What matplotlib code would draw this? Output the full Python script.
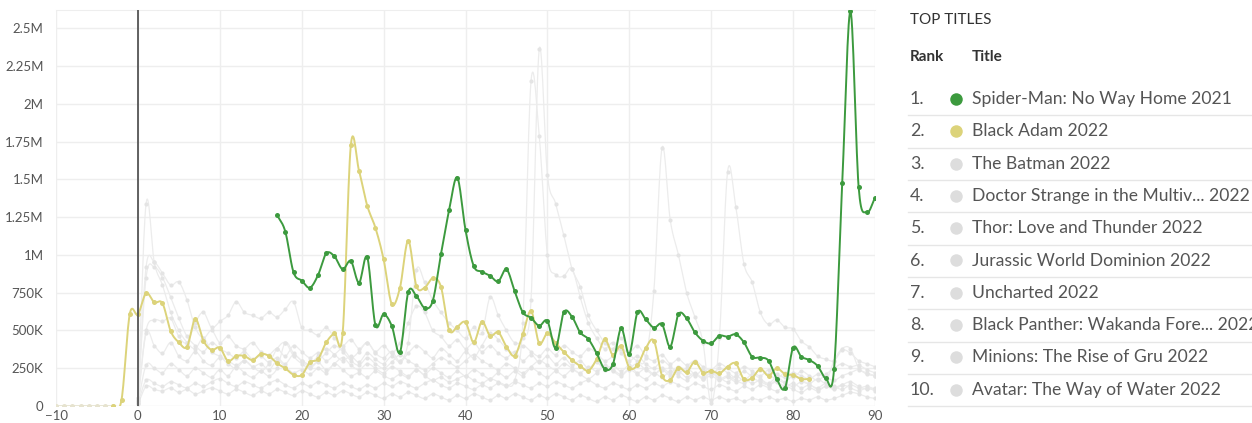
import numpy as np
import matplotlib
matplotlib.use("Agg")
import matplotlib.pyplot as plt
from matplotlib.lines import Line2D

plt.rcParams['font.family'] = ['Lato', 'DejaVu Sans']

# ---- data (views per day, in millions) ----
yticks = [0, 0.25, 0.5, 0.75, 1.0, 1.25, 1.5, 1.75, 2.0, 2.25, 2.5]
ytick_labels = ['0', '250K', '500K', '750K', '1M', '1.25M', '1.5M', '1.75M', '2M', '2.25M', '2.5M']
xticks = [-10, 0, 10, 20, 30, 40, 50, 60, 70, 80, 90]

titles = ['Spider-Man: No Way Home 2021', 'Black Adam 2022', 'The Batman 2022',
          'Doctor Strange in the Multiv... 2022', 'Thor: Love and Thunder 2022',
          'Jurassic World Dominion 2022', 'Uncharted 2022',
          'Black Panther: Wakanda Fore... 2022', 'Minions: The Rise of Gru 2022',
          'Avatar: The Way of Water 2022']

spider_start = 17
spider = [1.264, 1.154, 0.885, 0.830, 0.783, 0.867, 1.010, 0.990, 0.905, 0.960,
          0.816, 0.984, 0.536, 0.607, 0.530, 0.355, 0.752, 0.728, 0.650, 0.695,
          1.004, 1.295, 1.511, 1.165, 0.927, 0.889, 0.862, 0.825, 0.905, 0.761,
          0.620, 0.584, 0.531, 0.563, 0.385, 0.620, 0.591, 0.487, 0.443, 0.351,
          0.245, 0.276, 0.514, 0.344, 0.620, 0.574, 0.518, 0.541, 0.393, 0.607,
          0.580, 0.488, 0.432, 0.415, 0.465, 0.459, 0.474, 0.421, 0.326, 0.320,
          0.300, 0.179, 0.117, 0.386, 0.326, 0.304, 0.265, 0.183, 0.243, 1.476,
          2.612, 1.450, 1.282, 1.377]

adam_start = -10
adam = [0, 0, 0, 0, 0, 0, 0, 0, 0.040, 0.607,
        0.607, 0.746, 0.686, 0.680, 0.496, 0.421, 0.393, 0.576, 0.432, 0.371,
        0.386, 0.298, 0.331, 0.331, 0.304, 0.344, 0.331, 0.282, 0.249, 0.207,
        0.205, 0.289, 0.311, 0.421, 0.481, 0.481, 1.727, 1.557, 1.326, 1.180,
        0.971, 0.675, 0.783, 1.094, 0.794, 0.783, 0.845, 0.790, 0.503, 0.525,
        0.554, 0.421, 0.558, 0.465, 0.488, 0.393, 0.333, 0.474, 0.629, 0.415,
        0.481, 0.417, 0.358, 0.304, 0.265, 0.234, 0.310, 0.441, 0.338, 0.397,
        0.254, 0.271, 0.382, 0.432, 0.200, 0.172, 0.254, 0.223, 0.293, 0.221,
        0.234, 0.216, 0.260, 0.282, 0.177, 0.187, 0.245, 0.200, 0.249, 0.212,
        0.205, 0.179, 0.179]

gray_start = 0
batman = [0.05, 1.34, 0.95, 0.80, 0.62, 0.50, 0.42, 0.38, 0.45, 0.36,
          0.33, 0.30, 0.27, 0.30, 0.26, 0.28, 0.24, 0.30, 0.26, 0.22,
          0.24, 0.21, 0.25, 0.22, 0.28, 0.24, 0.20, 0.22, 0.19, 0.23,
          0.20, 0.18, 0.21, 0.19, 0.24, 0.20, 0.17, 0.19, 0.16, 0.18,
          0.20, 0.17, 0.15, 0.18, 0.16, 0.14, 0.17, 0.55, 2.15, 1.79,
          1.00, 0.87, 0.86, 0.91, 0.72, 0.55, 0.45, 0.38, 0.42, 0.35,
          0.30, 0.33, 0.28, 0.25, 0.30, 0.26, 0.22, 0.25, 0.21, 0.19,
          0.22, 0.18, 0.20, 0.17, 0.15, 0.18, 0.16, 0.14, 0.17, 0.15,
          0.13, 0.16, 0.14, 0.12, 0.15, 0.13, 0.11, 0.14, 0.12, 0.13, 0.11]
strange = [0.04, 0.92, 0.95, 0.88, 0.80, 0.82, 0.70, 0.52, 0.45, 0.50,
           0.42, 0.46, 0.40, 0.38, 0.42, 0.36, 0.34, 0.38, 0.33, 0.40,
           0.36, 0.32, 0.35, 0.30, 0.34, 0.38, 0.32, 0.36, 0.42, 0.35,
           0.32, 0.36, 0.30, 0.42, 0.90, 0.82, 0.70, 0.62, 0.55, 0.50,
           0.45, 0.52, 0.48, 0.72, 0.60, 0.50, 0.42, 0.45, 0.70, 2.36,
           1.53, 1.34, 1.13, 0.91, 0.79, 0.60, 0.50, 0.42, 0.38, 0.45,
           0.36, 0.40, 0.33, 0.30, 0.34, 0.28, 0.31, 0.27, 0.30, 0.26,
           0.24, 0.28, 0.25, 0.22, 0.26, 0.23, 0.20, 0.24, 0.21, 0.19,
           0.22, 0.20, 0.18, 0.21, 0.19, 0.17, 0.20, 0.22, 0.24, 0.21, 0.20]
thor = [0.03, 0.85, 0.92, 0.85, 0.72, 0.58, 0.46, 0.40, 0.36, 0.42,
        0.38, 0.35, 0.32, 0.36, 0.31, 0.33, 0.29, 0.32, 0.28, 0.34,
        0.30, 0.28, 0.33, 0.38, 0.34, 0.30, 0.33, 0.29, 0.35, 0.31,
        0.28, 0.33, 0.29, 0.35, 0.40, 0.36, 0.32, 0.38, 0.34, 0.30,
        0.36, 0.32, 0.40, 0.48, 0.44, 0.38, 0.35, 0.40, 0.36, 0.33,
        0.38, 0.34, 0.40, 0.36, 0.33, 0.38, 0.35, 0.30, 0.33, 0.38,
        0.34, 0.30, 0.32, 0.76, 1.71, 1.23, 1.00, 0.75, 0.59, 0.42,
        0.02, 0.45, 1.55, 1.32, 0.94, 0.82, 0.62, 0.54, 0.57, 0.52,
        0.51, 0.43, 0.39, 0.33, 0.31, 0.30, 0.37, 0.35, 0.30, 0.28, 0.26]
jurassic = [0.05, 0.50, 0.57, 0.56, 0.58, 0.46, 0.42, 0.55, 0.62, 0.52,
            0.56, 0.60, 0.69, 0.62, 0.60, 0.58, 0.62, 0.59, 0.64, 0.69,
            0.52, 0.50, 0.47, 0.52, 0.45, 0.40, 0.44, 0.38, 0.42, 0.36,
            0.40, 0.35, 0.42, 0.55, 0.66, 0.62, 0.50, 0.46, 0.40, 0.44,
            0.38, 0.42, 0.36, 0.40, 0.35, 0.32, 0.36, 0.30, 0.34, 0.29,
            0.33, 0.28, 0.32, 0.27, 0.30, 0.25, 0.29, 0.24, 0.27, 0.23,
            0.27, 0.22, 0.25, 0.21, 0.24, 0.20, 0.23, 0.19, 0.22, 0.18,
            0.20, 0.17, 0.19, 0.16, 0.18, 0.15, 0.17, 0.14, 0.16, 0.13,
            0.15, 0.12, 0.14, 0.11, 0.13, 0.12, 0.14, 0.12, 0.10, 0.12, 0.10]
uncharted = [0.02, 0.27, 0.25, 0.22, 0.28, 0.24, 0.20, 0.25, 0.22, 0.19,
             0.24, 0.20, 0.26, 0.22, 0.19, 0.23, 0.20, 0.25, 0.42, 0.35,
             0.30, 0.26, 0.29, 0.24, 0.28, 0.32, 0.27, 0.24, 0.28, 0.25,
             0.22, 0.26, 0.23, 0.20, 0.24, 0.21, 0.25, 0.22, 0.19, 0.23,
             0.20, 0.24, 0.21, 0.18, 0.22, 0.19, 0.23, 0.20, 0.25, 0.22,
             0.19, 0.23, 0.20, 0.24, 0.21, 0.18, 0.22, 0.26, 0.23, 0.20,
             0.24, 0.21, 0.18, 0.22, 0.19, 0.23, 0.20, 0.17, 0.21, 0.18,
             0.22, 0.19, 0.16, 0.20, 0.17, 0.21, 0.18, 0.15, 0.19, 0.16,
             0.20, 0.17, 0.15, 0.18, 0.16, 0.30, 0.38, 0.38, 0.25, 0.22, 0.20]
panther = [0.02, 0.17, 0.15, 0.13, 0.16, 0.14, 0.12, 0.15, 0.13, 0.16,
           0.18, 0.15, 0.13, 0.16, 0.14, 0.12, 0.15, 0.17, 0.14, 0.12,
           0.15, 0.13, 0.16, 0.14, 0.12, 0.15, 0.13, 0.11, 0.14, 0.12,
           0.15, 0.13, 0.16, 0.14, 0.12, 0.15, 0.17, 0.14, 0.12, 0.15,
           0.13, 0.11, 0.14, 0.12, 0.15, 0.13, 0.16, 0.14, 0.12, 0.15,
           0.13, 0.16, 0.14, 0.12, 0.15, 0.17, 0.14, 0.12, 0.15, 0.13,
           0.11, 0.14, 0.12, 0.15, 0.13, 0.16, 0.14, 0.12, 0.15, 0.13,
           0.11, 0.14, 0.12, 0.10, 0.13, 0.11, 0.14, 0.12, 0.10, 0.13,
           0.11, 0.09, 0.12, 0.10, 0.13, 0.11, 0.14, 0.16, 0.13, 0.11, 0.12]
minions = [0.01, 0.13, 0.11, 0.10, 0.12, 0.09, 0.11, 0.08, 0.10, 0.12,
           0.10, 0.08, 0.11, 0.09, 0.07, 0.10, 0.08, 0.11, 0.09, 0.07,
           0.10, 0.08, 0.06, 0.09, 0.07, 0.10, 0.08, 0.06, 0.09, 0.07,
           0.05, 0.08, 0.06, 0.09, 0.07, 0.05, 0.08, 0.06, 0.04, 0.07,
           0.05, 0.08, 0.06, 0.04, 0.07, 0.05, 0.08, 0.06, 0.04, 0.07,
           0.05, 0.08, 0.06, 0.04, 0.07, 0.05, 0.03, 0.06, 0.04, 0.07,
           0.05, 0.03, 0.06, 0.04, 0.07, 0.05, 0.03, 0.06, 0.04, 0.06,
           0.04, 0.06, 0.04, 0.05, 0.03, 0.05, 0.04, 0.06, 0.04, 0.05,
           0.03, 0.05, 0.04, 0.06, 0.04, 0.05, 0.07, 0.09, 0.08, 0.06, 0.05]
avatar = [0.03, 0.48, 0.40, 0.35, 0.42, 0.33, 0.30, 0.36, 0.30, 0.27,
          0.32, 0.28, 0.25, 0.30, 0.26, 0.23, 0.28, 0.38, 0.42, 0.33,
          0.28, 0.25, 0.30, 0.35, 0.40, 0.36, 0.30, 0.27, 0.32, 0.28,
          0.25, 0.29, 0.34, 0.30, 0.27, 0.24, 0.28, 0.32, 0.29, 0.26,
          0.30, 0.34, 0.30, 0.27, 0.24, 0.28, 0.25, 0.22, 0.26, 0.30,
          0.27, 0.24, 0.28, 0.25, 0.22, 0.26, 0.23, 0.27, 0.24, 0.21,
          0.25, 0.28, 0.24, 0.21, 0.25, 0.22, 0.26, 0.23, 0.20, 0.24,
          0.21, 0.25, 0.22, 0.19, 0.23, 0.20, 0.24, 0.21, 0.18, 0.22,
          0.19, 0.23, 0.20, 0.17, 0.21, 0.25, 0.28, 0.26, 0.27, 0.24, 0.22]
gray_series = [batman, strange, thor, jurassic, uncharted, panther, minions, avatar]

GREEN = '#3c9a3e'
YELLOW = '#dcd37a'
PALE = '#e6e3cf'
GRAY = '#ececec'
DOT_GRAY = '#e4e4e4'
LEGEND_GRAY = '#dddddd'


def smooth(xs, ys, n=14):
    # catmull-rom curve through the points, just for drawing
    x = np.asarray(xs, float)
    y = np.asarray(ys, float)
    px = np.concatenate([[2 * x[0] - x[1]], x, [2 * x[-1] - x[-2]]])
    py = np.concatenate([[2 * y[0] - y[1]], y, [2 * y[-1] - y[-2]]])
    t = np.linspace(0, 1, n, endpoint=False)
    ox, oy = [], []
    for i in range(1, len(px) - 2):
        for p, o in ((px, ox), (py, oy)):
            p0, p1, p2, p3 = p[i - 1], p[i], p[i + 1], p[i + 2]
            o.extend(0.5 * (2 * p1 + (-p0 + p2) * t + (2 * p0 - 5 * p1 + 4 * p2 - p3) * t ** 2
                            + (-p0 + 3 * p1 - 3 * p2 + p3) * t ** 3))
    ox.append(x[-1])
    oy.append(y[-1])
    return np.array(ox), np.array(oy)


def draw(ax, start, vals, color, dot, lw, ms, z):
    xs = np.arange(start, start + len(vals))
    sx, sy = smooth(xs, vals)
    ax.plot(sx, sy, color=color, lw=lw, zorder=z, solid_capstyle='round')
    ax.plot(xs, vals, 'o', color=dot, ms=ms, mew=0, zorder=z + 0.1)


fig = plt.figure(figsize=(12.52, 4.23), dpi=100)
ax = fig.add_axes([56 / 1252, 17 / 423, 819 / 1252, 396 / 423])

for s in gray_series:
    draw(ax, gray_start, s, GRAY, DOT_GRAY, 0.9, 3.0, 2)

# pre-release part of Black Adam is drawn pale
n_pale = 8
draw(ax, adam_start, adam[:n_pale], PALE, PALE, 1.2, 3.6, 3)
draw(ax, adam_start + n_pale - 1, adam[n_pale - 1:], YELLOW, YELLOW, 1.4, 3.6, 4)
draw(ax, spider_start, spider, GREEN, GREEN, 1.4, 3.6, 5)

ax.axvline(0, color='#555555', lw=1.3, zorder=6)

ax.set_xlim(-10, 90)
ax.set_ylim(0, 2.621)
ax.set_yticks(yticks)
ax.set_yticklabels(ytick_labels)
ax.set_xticks(xticks)
ax.grid(True, color='#eeeeee', lw=1.0, zorder=0)
ax.set_axisbelow(True)
for side in ['left', 'right', 'bottom']:
    ax.spines[side].set_visible(False)
ax.spines['top'].set_color('#eeeeee')
ax.tick_params(axis='both', length=0, colors='#555555', labelsize=9.5)
ax.tick_params(axis='y', pad=9)
ax.tick_params(axis='x', pad=3)

# ---- right side list ----
fx = lambda px: px / 1252
fy = lambda py: 1 - py / 423
fig.text(fx(910), fy(20), 'TOP TITLES', fontsize=11, color='#333333', va='center')
fig.text(fx(910), fy(57), 'Rank', fontsize=11, color='#333333', va='center', weight='bold')
fig.text(fx(972), fy(57), 'Title', fontsize=11, color='#333333', va='center', weight='bold')
dot_colors = [GREEN, YELLOW] + [LEGEND_GRAY] * 8
for i, t in enumerate(titles):
    yc = 99 + i * 32.3
    fig.text(fx(910), fy(yc), f'{i + 1}.', fontsize=12.8, color='#555555', va='center')
    fig.add_artist(Line2D([fx(956)], [fy(yc)], marker='o', ms=9, mew=0,
                          color=dot_colors[i], transform=fig.transFigure))
    fig.text(fx(972), fy(yc), t, fontsize=12.6, color='#555555', va='center')
    fig.add_artist(Line2D([fx(908), 1.0], [fy(yc + 16.5)] * 2, color='#e6e6e6', lw=1.0,
                          transform=fig.transFigure))

fig.savefig('out.png', dpi=100)
